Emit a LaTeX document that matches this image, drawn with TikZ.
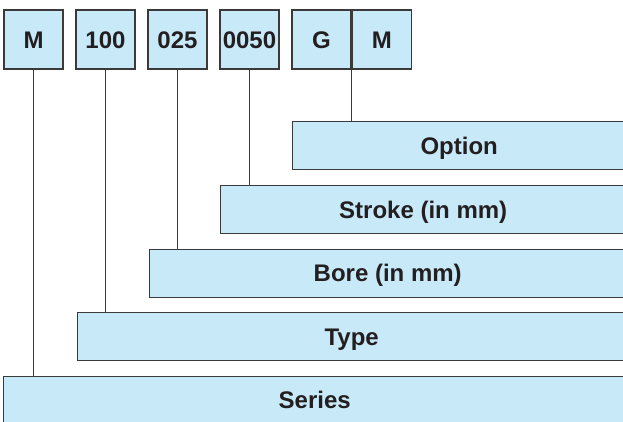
\documentclass[tikz,border=0pt]{standalone}
\usepackage{fontspec}
\setmainfont{Liberation Sans}
\usetikzlibrary{positioning}
\definecolor{boxblue}{HTML}{C8E9F8}
\definecolor{boxline}{HTML}{3A3A3A}
\definecolor{inktext}{HTML}{231F20}

\begin{document}
\begin{tikzpicture}[x=1pt, y=-1pt, line width=1.1pt,
      code/.style={rectangle, draw=boxline, fill=boxblue, line width=1.4pt,
        minimum width=59pt, minimum height=59pt, inner sep=0pt,
        text height=17pt, text depth=0pt,
        text=inktext, font=\fontsize{24}{24}\selectfont\bfseries},
      bar/.style={rectangle, draw=boxline, fill=boxblue, line width=1.4pt,
        anchor=north west, inner sep=0pt, minimum height=48pt,
        text height=17pt, text depth=0pt,
        text=inktext, font=\fontsize{24}{24}\selectfont\bfseries},
      link/.style={draw=boxline, line width=1pt}]
      \useasboundingbox (0,0) rectangle (623,421);
      % code boxes;
      \node[code] (m1) at(33.5,39.5) {M};
      \node[code] (type) at(105.5,39.5) {100};
      \node[code] (bore) at(177.5,39.5) {025};
      \node[code] (stroke) at(249.5,39.5) {0050};
      \node[code] (g) at(321.5,39.5) {G};
      \node[code, right=0pt of g] (m2) {M};
      % bars;
      \node[bar, minimum width=333pt] (option) at(292,121) {Option};
      \node[bar, minimum width=405pt] (strokebar) at(220,185) {Stroke (in mm)};
      \node[bar, minimum width=476pt] (borebar) at(149,248.5) {Bore (in mm)};
      \node[bar, minimum width=548pt] (typebar) at(77,312) {Type};
      \node[bar, minimum width=622pt] (series) at(3,375.5) {Series};
      % links;
      \path[link] (m1.south) -- (m1.south |- series.north);
      \path[link] (type.south) -- (type.south |- typebar.north);
      \path[link] (bore.south) -- (bore.south |- borebar.north);
      \path[link] (stroke.south) -- (stroke.south |- strokebar.north);
      \path[link] (g.south east) -- (g.south east |- option.north);
  \end{tikzpicture}
\end{document}
